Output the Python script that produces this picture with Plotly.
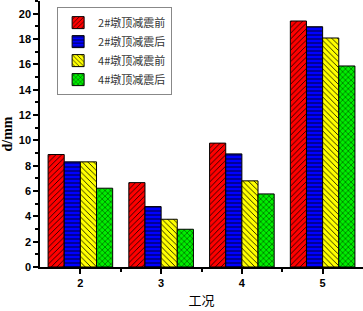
import plotly.graph_objects as go

categories = ["2", "3", "4", "5"]
series_names = ["2#墩顶减震前", "2#墩顶减震后", "4#墩顶减震前", "4#墩顶减震后"]
pier2_before = [8.88, 6.66, 9.78, 19.42]
pier2_after = [8.30, 4.77, 8.93, 18.97]
pier4_before = [8.30, 3.77, 6.80, 18.08]
pier4_after = [6.22, 2.98, 5.77, 15.87]

colors = ["#ff0000", "#0000ff", "#ffff00", "#00ee00"]
shapes = ["/", "-", "\\", "x"]
values = [pier2_before, pier2_after, pier4_before, pier4_after]

x_num = [float(c) for c in categories]

fig = go.Figure()
for name, vals, col, shp in zip(series_names, values, colors, shapes):
    fig.add_trace(go.Bar(
        x=x_num, y=vals, name=name,
        marker=dict(color=col, line=dict(color="#000000", width=1),
                    pattern=dict(shape=shp, fgcolor="#000000", bgcolor=col,
                                 size=4, solidity=0.2, fillmode="replace")),
    ))

fig.update_layout(
    width=363, height=311,
    barmode="group", bargap=0.2, bargroupgap=0,
    paper_bgcolor="white", plot_bgcolor="white",
    margin=dict(l=40, r=0, t=1, b=44),
    font=dict(family="Liberation Sans, Arial, sans-serif", color="#000000"),
    legend=dict(
        x=0.053, y=0.977, xanchor="left", yanchor="top",
        bgcolor="white", bordercolor="#888888", borderwidth=1,
        font=dict(family="Noto Sans CJK SC", size=11, color="#333333"),
        tracegroupgap=0, itemwidth=30,
    ),
    xaxis=dict(
        range=[1.5, 5.5], tickvals=x_num, ticktext=categories,
        showline=True, linecolor="#000000", linewidth=1.5,
        ticks="outside", ticklen=5, tickwidth=1.5, tickcolor="#000000",
        minor=dict(tickvals=[2.5, 3.5, 4.5], ticks="outside", ticklen=3, tickcolor="#000000"),
        tickfont=dict(size=11, family="Liberation Sans, Arial", weight="bold"),
        showgrid=False, zeroline=False,
        title=dict(text="工况", font=dict(family="Noto Sans CJK SC", size=13), standoff=8),
    ),
    yaxis=dict(
        range=[0, 21], tickvals=[0, 2, 4, 6, 8, 10, 12, 14, 16, 18, 20],
        showline=True, linecolor="#000000", linewidth=1.5,
        ticks="outside", ticklen=5, tickwidth=1.5, tickcolor="#000000",
        minor=dict(dtick=1, ticks="outside", ticklen=3, tickcolor="#000000"),
        tickfont=dict(size=11, family="Liberation Sans, Arial", weight="bold"),
        showgrid=False, zeroline=False,
        title=dict(text="<b>d/mm</b>", font=dict(family="Liberation Serif, Times New Roman", size=14), standoff=4),
    ),
)

fig.write_html("out.html", config={"displayModeBar": False},
               post_script="document.body.style.margin='0';document.body.style.overflow='hidden';")
